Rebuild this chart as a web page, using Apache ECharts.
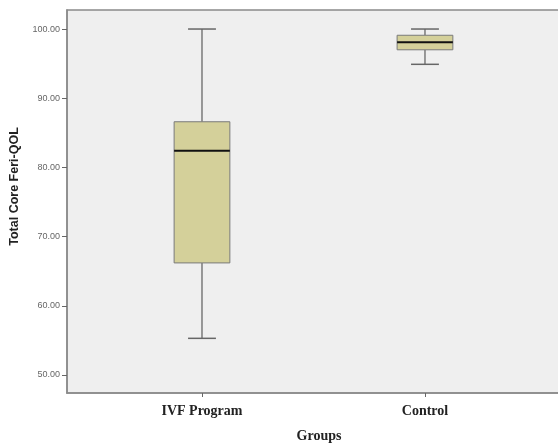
<!DOCTYPE html>
<html>
<head>
<meta charset="utf-8">
<script src="https://cdn.jsdelivr.net/npm/echarts@6/dist/echarts.min.js"></script>
<style>html,body{margin:0;padding:0;background:#fff}#c{width:558px;height:443px}</style>
</head>
<body>
<div id="c"></div>
<script>
var categories = ['IVF Program', 'Control'];
var whiskerLow = [55.3, 94.9];
var q1 = [66.2, 97.0];
var median = [82.4, 98.1];
var q3 = [86.6, 99.1];
var whiskerHigh = [100.0, 100.0];
var yTicks = [50, 60, 70, 80, 90, 100];

var data = categories.map(function (c, i) {
  return [i, whiskerLow[i], q1[i], median[i], q3[i], whiskerHigh[i]];
});

var chart = echarts.init(document.getElementById('c'));
chart.setOption({
  animation: false,
  grid: {
    left: 67, top: 10, right: -3, bottom: 50,
    containLabel: false, outerBoundsMode: 'none',
    show: true, backgroundColor: '#efefef', borderColor: '#8a8a8a', borderWidth: 1.5
  },
  xAxis: {
    type: 'value', min: -0.6054, max: 1.61,
    name: 'Groups', nameLocation: 'middle', nameGap: 36,
    nameTextStyle: { fontFamily: 'Liberation Serif', fontWeight: 'bold', fontSize: 14, color: '#222', padding: [0, 0, 0, 10] },
    splitLine: { show: false },
    axisLine: { show: true, onZero: false, lineStyle: { color: '#8a8a8a', width: 1.5 } },
    axisTick: { show: true, customValues: [0, 1], length: 4, lineStyle: { color: '#666' } },
    axisLabel: {
      customValues: [0, 1], margin: 11,
      formatter: function (v) { return categories[Math.round(v)]; },
      fontFamily: 'Liberation Serif', fontWeight: 'bold', fontSize: 14, color: '#222'
    }
  },
  yAxis: {
    type: 'value', min: 47.4, max: 102.75,
    name: 'Total Core Feri-QOL', nameLocation: 'middle', nameGap: 46,
    nameTextStyle: { fontFamily: 'Liberation Sans', fontWeight: 'bold', fontSize: 12.5, color: '#222', padding: [0, 0, 0, 30] },
    splitLine: { show: false },
    axisLine: { show: true, onZero: false, lineStyle: { color: '#8a8a8a', width: 1.5 } },
    axisTick: { show: true, customValues: yTicks, length: 5, lineStyle: { color: '#666' } },
    axisLabel: {
      customValues: yTicks, margin: 7,
      formatter: function (v) { return v.toFixed(2); },
      fontFamily: 'Liberation Sans', fontSize: 9, color: '#666'
    }
  },
  series: [{
    type: 'custom',
    data: data,
    encode: { x: 0, y: [1, 2, 3, 4, 5] },
    renderItem: function (params, api) {
      var x = api.value(0);
      var unit = api.size([1, 0])[0];
      var bw = unit * 0.25, cw = bw / 2;
      var pLow = api.coord([x, api.value(1)]);
      var pQ1 = api.coord([x, api.value(2)]);
      var pMed = api.coord([x, api.value(3)]);
      var pQ3 = api.coord([x, api.value(4)]);
      var pHigh = api.coord([x, api.value(5)]);
      var cx = pQ1[0];
      var wStyle = { stroke: '#7a7a7a', lineWidth: 1.5 };
      return {
        type: 'group',
        children: [
          { type: 'line', shape: { x1: cx, y1: pHigh[1], x2: cx, y2: pQ3[1] }, style: wStyle },
          { type: 'line', shape: { x1: cx, y1: pQ1[1], x2: cx, y2: pLow[1] }, style: wStyle },
          { type: 'line', shape: { x1: cx - cw / 2, y1: pHigh[1], x2: cx + cw / 2, y2: pHigh[1] }, style: { stroke: '#666', lineWidth: 1.5 } },
          { type: 'line', shape: { x1: cx - cw / 2, y1: pLow[1], x2: cx + cw / 2, y2: pLow[1] }, style: { stroke: '#666', lineWidth: 1.5 } },
          { type: 'rect', shape: { x: cx - bw / 2, y: pQ3[1], width: bw, height: pQ1[1] - pQ3[1] },
            style: { fill: '#d4d09a', stroke: '#7a7a7a', lineWidth: 1 } },
          { type: 'line', shape: { x1: cx - bw / 2, y1: pMed[1], x2: cx + bw / 2, y2: pMed[1] }, style: { stroke: '#111', lineWidth: 2 } }
        ]
      };
    }
  }]
});
</script>
</body>
</html>
